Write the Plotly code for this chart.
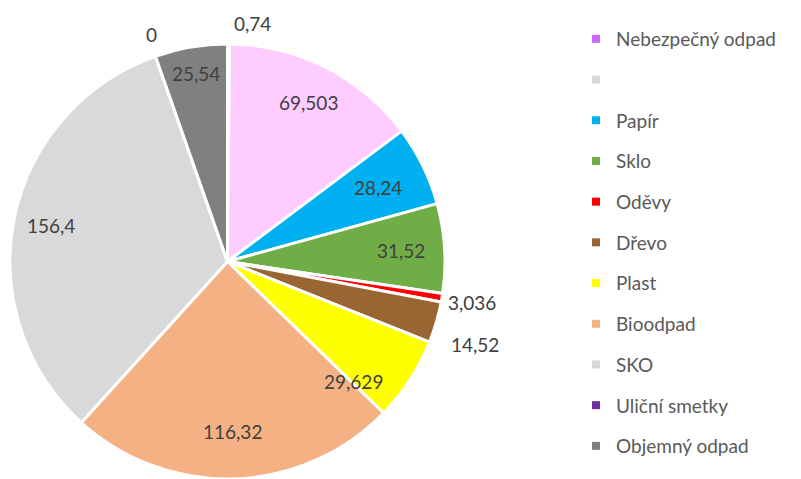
import math
import plotly.graph_objects as go

categories = ["Nebezpečný odpad", " ", "Papír", "Sklo", "Oděvy", "Dřevo", "Plast",
              "Bioodpad", "SKO", "Uliční smetky", "Objemný odpad"]
values = [0.74, 69.503, 28.24, 31.52, 3.036, 14.52, 29.629, 116.32, 156.4, 0, 25.54]
slice_colors = ["#CC66FF", "#FFCCFF", "#00B0F0", "#70AD47", "#FF0000", "#996633",
                "#FFFF00", "#F4B183", "#D9D9D9", "#7030A0", "#808080"]
legend_colors = ["#CC66FF", "#D9D9D9", "#00B0F0", "#70AD47", "#FF0000", "#996633",
                 "#FFFF00", "#F4B183", "#D9D9D9", "#7030A0", "#808080"]

# label placement styling (radial factor, angular nudge in degrees)
label_rf = [1.10, 0.82, 0.77, 0.80, 1.14, 1.20, 0.80, 0.78, 0.83, 1.10, 0.875]
label_dang = [5.7, 0, 0, 0, 0, 2.4, 10.7, 0, 0, 0.9, 0]

FONT = "Lato, Open Sans, sans-serif"
TXT = "#404040"

W, H = 801, 479
PIE_LEFT, PIE_TOP, PIE_D = 10, 44, 435   # pie box in px
R = PIE_D / 2
cx, cy = PIE_LEFT + R, H - PIE_TOP - R    # centre in hidden-axis units (px, y up)

fig = go.Figure()
fig.add_trace(go.Pie(
    labels=categories, values=values, sort=False, direction="clockwise", rotation=0,
    marker=dict(colors=slice_colors, line=dict(color="white", width=3)),
    textinfo="none", showlegend=False, hoverinfo="label+value",
    domain=dict(x=[PIE_LEFT / W, (PIE_LEFT + PIE_D) / W],
                y=[(H - PIE_TOP - PIE_D) / H, (H - PIE_TOP) / H]),
))

for name, col in zip(categories, legend_colors):
    fig.add_trace(go.Scatter(
        x=[None], y=[None], mode="markers", name=name, legendgroup=name,
        marker=dict(symbol="square", size=8, color=col), showlegend=True,
    ))

total = sum(values)
cum = 0.0
annotations = []
for v, rf, da in zip(values, label_rf, label_dang):
    mid = (cum + v / 2) / total * 360 + da
    cum += v
    a = math.radians(mid)
    annotations.append(dict(
        x=cx + rf * R * math.sin(a), y=cy + rf * R * math.cos(a),
        xref="x", yref="y", text=("%g" % v).replace(".", ","), showarrow=False,
        font=dict(family=FONT, size=19, color=TXT), xanchor="center", yanchor="middle",
    ))

fig.update_layout(
    width=W, height=H,
    margin=dict(l=0, r=0, t=0, b=0, autoexpand=False),
    paper_bgcolor="white", plot_bgcolor="white",
    xaxis=dict(visible=False, range=[0, W], fixedrange=True),
    yaxis=dict(visible=False, range=[0, H], fixedrange=True),
    annotations=annotations,
    legend=dict(x=576 / W, y=1 - 20 / H, xref="container", yref="container",
                xanchor="left", yanchor="top", maxheight=478,
                font=dict(family=FONT, size=19, color="#595959"),
                tracegroupgap=13, itemwidth=30, bgcolor="rgba(0,0,0,0)"),
)
fig.write_html("out.html")
